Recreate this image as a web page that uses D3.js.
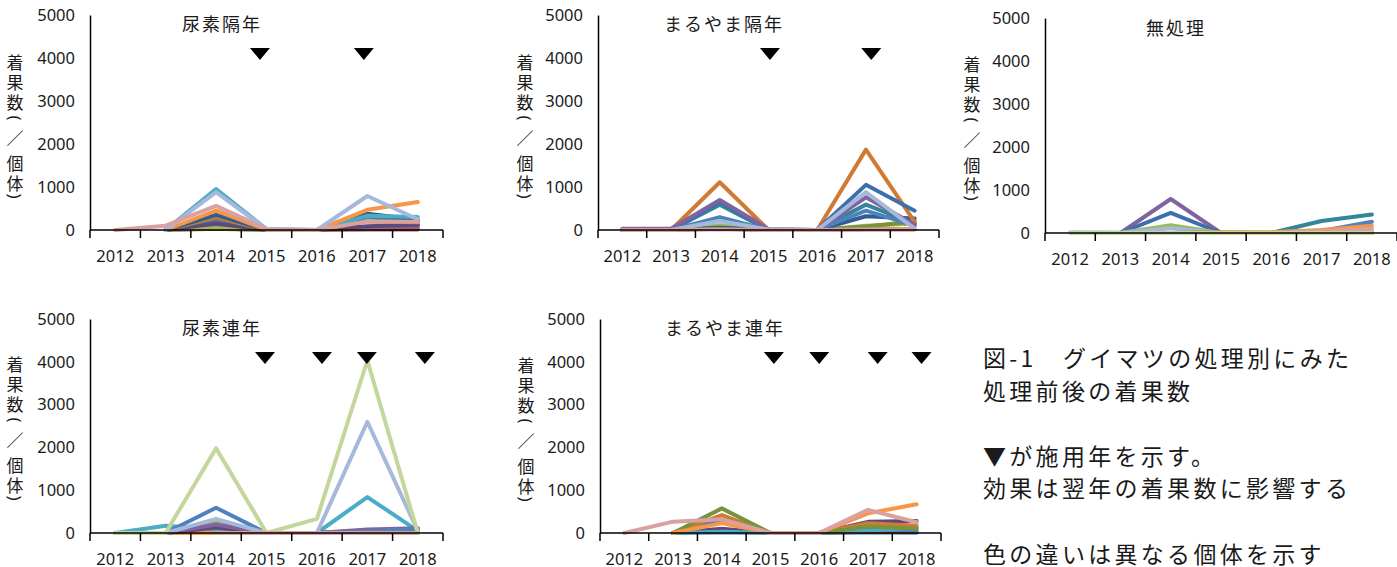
<!DOCTYPE html>
<html><head><meta charset="utf-8">
<script src="https://cdn.jsdelivr.net/npm/d3@7"></script>
<style>
html,body{margin:0;padding:0;background:#fff;}
svg{display:block;}
text{font-family:'Noto Sans CJK JP','Noto Sans',sans-serif;fill:#1a1a1a;}
</style></head>
<body><svg id="chart" width="1397" height="567"></svg>
<script>
// ---- data ----
const years = [2012, 2013, 2014, 2015, 2016, 2017, 2018];
const yTicks = [0, 1000, 2000, 3000, 4000, 5000];
const yTitle = ["着", "果", "数", "(", "／", "個", "体", ")"];
const titles = ["尿素隔年", "まるやま隔年", "無処理", "尿素連年", "まるやま連年"];

// application years (▼)
const apply1 = [2015, 2017];
const apply2 = [2015, 2017];
const apply3 = [];
const apply4 = [2015, 2016, 2017, 2018];
const apply5 = [2015, 2016, 2017, 2018];

// 尿素隔年
const s1_blue    = [null, 0, 120, 0, 0, 60, 30];
const s1_red     = [null, 0, 30, 0, 0, 10, 10];
const s1_green   = [null, 0, 40, 0, 0, 50, 130];
const s1_purple  = [null, 0, 200, 0, 0, 70, 90];
const s1_dpurple = [null, 0, 150, 0, 0, 90, 120];
const s1_dteal   = [null, 0, 280, 0, 0, 300, 200];
const s1_brown   = [null, 0, 300, 0, 0, 200, 180];
const s1_dblue   = [null, 0, 350, 0, 0, 380, 240];
const s1_teal    = [null, 0, 950, 20, 0, 330, 300];
const s1_orange  = [null, 0, 450, 0, 0, 470, 650];
const s1_lav     = [null, 0, 880, 20, 0, 790, 250];
const s1_pink    = [0, 100, 560, 20, 0, 200, 190];

// まるやま隔年
const s2_red     = [0, 0, 30, 0, 0, 20, 20];
const s2_orange  = [0, 0, 60, 0, 0, 20, 20];
const s2_green   = [0, 0, 110, 0, 0, 100, 150];
const s2_dgreen  = [0, 0, 40, 0, 0, 80, 200];
const s2_dblue   = [0, 0, 50, 0, 0, 320, 270];
const s2_teal    = [0, 0, 590, 0, 0, 590, 150];
const s2_blue2   = [0, 0, 300, 0, 0, 450, 100];
const s2_brown   = [0, 0, 1110, 0, 0, 1870, 190];
const s2_blue    = [10, 10, 650, 10, 0, 1050, 450];
const s2_purple  = [30, 30, 700, 20, 0, 760, 120];
const s2_lav     = [0, 0, 210, 10, 0, 880, 30];
const s2_pink    = [0, 0, 20, 0, 0, 10, 10];

// 無処理
const s3_lteal   = [20, 10, null, null, null, null, null];
const s3_purple  = [null, 0, 790, 0, 0, 0, 0];
const s3_blue    = [null, 0, 470, 0, 0, 20, 20];
const s3_green   = [null, 0, 180, 0, 0, 30, 30];
const s3_lav     = [null, 0, 110, 0, 0, 20, 30];
const s3_dteal   = [null, 0, 0, 10, 0, 280, 430];
const s3_blue2   = [null, 0, 0, 0, 0, 50, 260];
const s3_orange  = [null, 0, 0, 20, 20, 70, 170];
const s3_pink    = [null, 0, 0, 0, 0, 40, 100];
const s3_lgreen  = [0, 0, 0, 0, 0, 0, 0];

// 尿素連年
const s4_orange  = [null, 0, 0, 0, 0, 0, 0];
const s4_teal    = [0, 170, 80, 0, 0, 840, 50];
const s4_green   = [null, 0, 250, 0, 0, 30, 30];
const s4_dpurple = [null, 0, 130, 0, 0, 60, 90];
const s4_purple  = [null, 0, 200, 0, 0, 80, 110];
const s4_blue    = [null, 0, 590, 0, 0, 30, 100];
const s4_lav     = [null, 0, 330, 0, 0, 2600, 50];
const s4_pink    = [null, null, 0, 0, 0, 0, 0];
const s4_lgreen  = [0, 0, 1980, 0, 330, 4030, 0];

// まるやま連年
const s5_lblue   = [null, 0, 0, 0, 0, 0, 0];
const s5_red     = [null, 0, 50, 0, 0, 30, 20];
const s5_blue    = [null, 0, 290, 0, 0, 80, 50];
const s5_dpurple = [null, 0, 100, 0, 0, 260, 280];
const s5_teal    = [null, 0, 30, 0, 0, 50, 130];
const s5_brown   = [null, 0, 420, 0, 0, 230, 170];
const s5_green   = [null, 0, 575, 0, 0, 150, 100];
const s5_orange  = [null, 0, 230, 0, 0, 460, 670];
const s5_pink    = [0, 265, 320, 0, 0, 540, 250];

const noteLines = ["図-1　グイマツの処理別にみた", "処理前後の着果数", "", "▼が施用年を示す。", "効果は翌年の着果数に影響する", "", "色の違いは異なる個体を示す"];

// ---- styles / layout ----
const C = {
  blue:"#4F81BD", red:"#C0504D", green:"#9BBB59", purple:"#8064A2", teal:"#4BACC6", orange:"#F79646",
  dblue:"#2F5C91", dpurple:"#5F497A", dteal:"#31859C", brown:"#D07B35", dgreen:"#77933C",
  lav:"#A7B9DA", pink:"#D9A19F", lgreen:"#C3D69B", lteal:"#92CDDC", lblue:"#95B3D7", blue2:"#3E6FAD"
};

const panels = [
  {title:titles[0], apply:apply1, triOff:[-0.13,-0.07], box:{l:90,r:443,t:15,b:230}, titlePos:[222,23], ytx:15, yty:61,
   series:[[s1_blue,C.blue],[s1_red,C.red],[s1_green,C.green],[s1_purple,C.purple],[s1_dpurple,C.dpurple],[s1_dteal,C.dteal],[s1_brown,C.brown],[s1_dblue,C.dblue],[s1_teal,C.teal],[s1_orange,C.orange],[s1_lav,C.lav],[s1_pink,C.pink]]},
  {title:titles[1], apply:apply2, triOff:[0.03,0.11], box:{l:598,r:939,t:15,b:230}, titlePos:[724,23], ytx:525, yty:61,
   series:[[s2_red,C.red],[s2_orange,C.orange],[s2_green,C.green],[s2_dgreen,C.dgreen],[s2_dblue,C.dblue],[s2_teal,C.dteal],[s2_blue2,C.blue],[s2_brown,C.brown],[s2_blue,C.blue2],[s2_purple,C.purple],[s2_lav,C.lav],[s2_pink,C.pink]]},
  {title:titles[2], apply:apply3, triOff:[], box:{l:1045,r:1397,t:18,b:233}, titlePos:[1176,27], ytx:972, yty:63,
   series:[[s3_lteal,C.lteal],[s3_purple,C.purple],[s3_blue,C.blue2],[s3_green,C.green],[s3_lav,C.lav],[s3_dteal,C.dteal],[s3_blue2,C.blue],[s3_orange,C.orange],[s3_pink,C.pink],[s3_lgreen,C.lgreen]]},
  {title:titles[3], apply:apply4, triOff:[-0.03,0.1,-0.01,0.14], box:{l:90,r:443,t:319,b:533}, titlePos:[222,327], ytx:15, yty:363,
   series:[[s4_orange,C.orange],[s4_teal,C.teal],[s4_green,C.green],[s4_dpurple,C.dpurple],[s4_purple,C.purple],[s4_blue,C.blue],[s4_lav,C.lav],[s4_lgreen,C.lgreen],[s4_pink,C.pink]]},
  {title:titles[4], apply:apply5, triOff:[0.07,0.0,0.2,0.1], box:{l:600,r:941,t:319,b:533}, titlePos:[725,327], ytx:526, yty:364,
   series:[[s5_lblue,C.lblue],[s5_red,C.red],[s5_blue,C.blue],[s5_dpurple,C.dpurple],[s5_teal,C.teal],[s5_brown,C.brown],[s5_green,C.dgreen],[s5_orange,C.orange],[s5_pink,C.pink]]}
];

// vertical offsets of the stacked y-title characters (relative to first)
const yTitleDy = [0, 20, 40, 57, 76, 101, 121, 135];

const numFont = "'Noto Sans','Noto Sans CJK JP',sans-serif";
const svg = d3.select("#chart");
svg.append("rect").attr("width",1397).attr("height",567).attr("fill","#fff");

panels.forEach(p => {
  const g = svg.append("g");
  const {l,r,t,b} = p.box;
  const x = d3.scaleBand().domain(years).range([l, r]);
  const y = d3.scaleLinear().domain([0, 5000]).range([b, t]);
  const cx = yr => x(yr) + x.bandwidth()/2;

  // y axis
  const ya = d3.axisLeft(y).tickValues(yTicks).tickSize(0).tickPadding(15).tickFormat(d3.format("d"));
  const yg = g.append("g").attr("transform",`translate(${l},0)`).call(ya);
  yg.select(".domain").attr("stroke","#000").attr("stroke-width",1.5);
  yg.selectAll("text").attr("font-size",16.5).attr("fill","#111").style("font-family",numFont);

  // lines
  const line = d3.line().defined(d => d.v !== null).x(d => cx(d.yr)).y(d => y(d.v));
  p.series.forEach(([vals, col]) => {
    g.append("path")
      .datum(vals.map((v,i)=>({yr:years[i], v})))
      .attr("d", line).attr("fill","none").attr("stroke",col)
      .attr("stroke-width",4).attr("stroke-linejoin","round").attr("stroke-linecap","round");
  });

  // x axis
  const xa = d3.axisBottom(x).tickSize(0).tickPadding(20);
  const xg = g.append("g").attr("transform",`translate(0,${b})`).call(xa);
  xg.select(".domain").remove();
  xg.selectAll("text").attr("font-size",16.5).attr("fill","#111").style("font-family",numFont);
  g.append("line").attr("x1",l).attr("x2",r).attr("y1",b).attr("y2",b).attr("stroke","#000").attr("stroke-width",1.5);
  const bounds = years.map(yr => x(yr)).concat([r]);
  g.selectAll(".xt").data(bounds).enter().append("line")
    .attr("x1",d=>d).attr("x2",d=>d).attr("y1",b).attr("y2",b+8).attr("stroke","#000").attr("stroke-width",1.5);

  // title
  g.append("text").attr("x",p.titlePos[0]).attr("y",p.titlePos[1]).attr("text-anchor","middle")
    .attr("dominant-baseline","central").attr("font-size",18).attr("letter-spacing",2).text(p.title);

  // y title (vertical, stacked)
  yTitle.forEach((ch,i) => {
    const ty = p.yty + yTitleDy[i];
    const tt = g.append("text").attr("x",p.ytx).attr("y",ty).attr("text-anchor","middle")
      .attr("dominant-baseline","central").attr("font-size",17).attr("fill","#333").text(ch);
    if (ch === "(" || ch === ")") tt.attr("transform",`rotate(90,${p.ytx},${ty})`).style("font-family",numFont);
  });

  // triangles
  p.apply.forEach((yr,i) => {
    const tx = cx(yr) + p.triOff[i]*x.bandwidth();
    const ty = t + 33;
    g.append("path").attr("d",`M${tx-10},${ty}L${tx+10},${ty}L${tx},${ty+12}Z`).attr("fill","#000");
  });
});

// notes
const notes = svg.append("g");
noteLines.forEach((s,i) => {
  if (!s) return;
  notes.append("text").attr("x",983).attr("y",357 + i*32.6).attr("dominant-baseline","central")
    .attr("font-size",23).attr("letter-spacing",3.3).attr("fill","#111").text(s);
});
</script></body></html>
